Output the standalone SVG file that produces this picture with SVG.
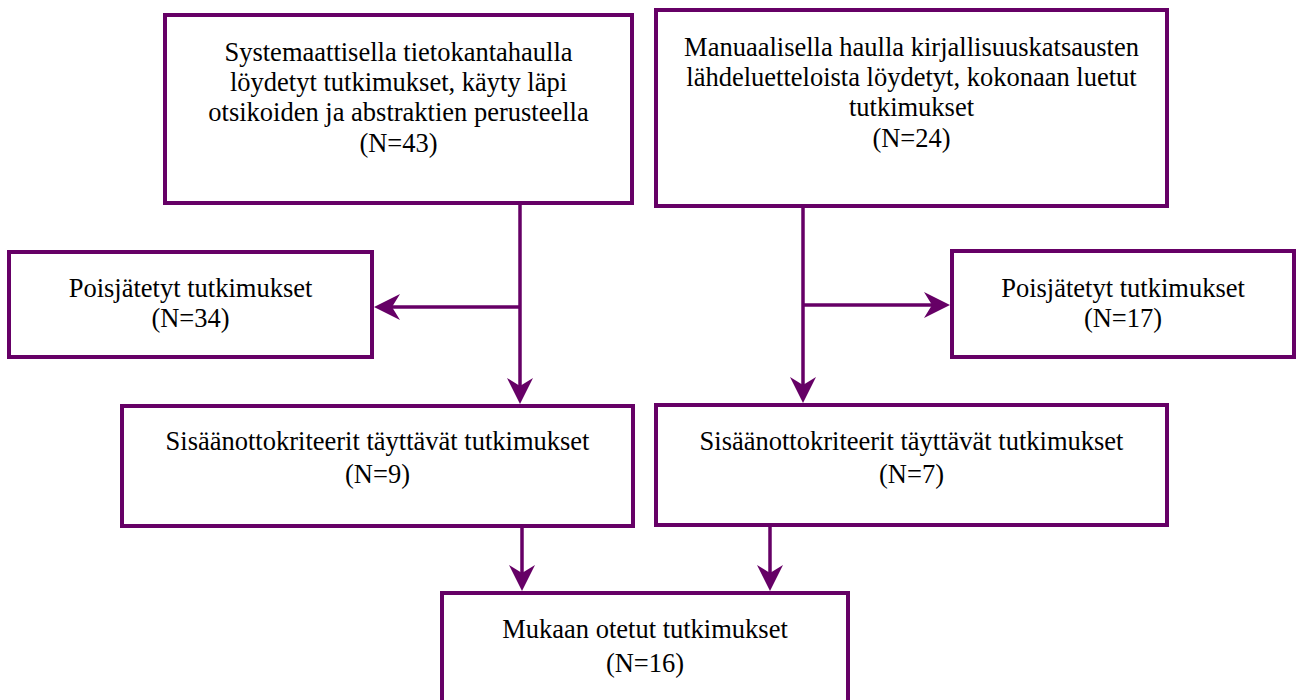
<svg xmlns="http://www.w3.org/2000/svg" width="1297" height="700" viewBox="0 0 1297 700">
  <style>
    .box { fill: #ffffff; stroke: #660066; stroke-width: 4; }
    .lbl { font-family: "Liberation Serif", "Times New Roman", serif; font-size: 26.5px; fill: #000000; text-anchor: middle; }
    .conn { fill: none; stroke: #660066; stroke-width: 3.5; }
  </style>
  <defs>
    <marker id="arr" markerUnits="userSpaceOnUse" viewBox="-17 -14 28 28" markerWidth="28" markerHeight="28" refX="0" refY="0" orient="auto">
      <path d="M10,0 L-16,-13 L-8,0 L-16,13 Z" fill="#660066"/>
    </marker>
  </defs>
  <rect width="1297" height="700" fill="#ffffff"/>

  <g id="connectors">
    <line class="conn" x1="520" y1="205" x2="520" y2="394" marker-end="url(#arr)"/>
    <line class="conn" x1="520" y1="307" x2="384" y2="307" marker-end="url(#arr)"/>
    <line class="conn" x1="803" y1="208" x2="803" y2="393" marker-end="url(#arr)"/>
    <line class="conn" x1="803" y1="305" x2="940" y2="305" marker-end="url(#arr)"/>
    <line class="conn" x1="522" y1="527" x2="522" y2="581" marker-end="url(#arr)"/>
    <line class="conn" x1="770" y1="527" x2="770" y2="581" marker-end="url(#arr)"/>
  </g>

  <g id="node-systematic">
    <rect class="box" x="165" y="15" width="467" height="188"/>
    <text class="lbl" x="398.5" y="61">Systemaattisella tietokantahaulla</text>
    <text class="lbl" x="398.5" y="91">löydetyt tutkimukset, käyty läpi</text>
    <text class="lbl" x="398.5" y="121">otsikoiden ja abstraktien perusteella</text>
    <text class="lbl" x="398.5" y="152">(N=43)</text>
  </g>

  <g id="node-manual">
    <rect class="box" x="656" y="10" width="511" height="196"/>
    <text class="lbl" x="911.5" y="56">Manuaalisella haulla kirjallisuuskatsausten</text>
    <text class="lbl" x="911.5" y="86">lähdeluetteloista löydetyt, kokonaan luetut</text>
    <text class="lbl" x="911.5" y="116">tutkimukset</text>
    <text class="lbl" x="911.5" y="147">(N=24)</text>
  </g>

  <g id="node-excluded-left">
    <rect class="box" x="9" y="252" width="363" height="105"/>
    <text class="lbl" x="190.5" y="297">Poisjätetyt tutkimukset</text>
    <text class="lbl" x="190.5" y="327">(N=34)</text>
  </g>

  <g id="node-excluded-right">
    <rect class="box" x="952" y="251" width="342" height="106"/>
    <text class="lbl" x="1123" y="297">Poisjätetyt tutkimukset</text>
    <text class="lbl" x="1123" y="327">(N=17)</text>
  </g>

  <g id="node-included-left">
    <rect class="box" x="122" y="406" width="511" height="120"/>
    <text class="lbl" x="377.5" y="450">Sisäänottokriteerit täyttävät tutkimukset</text>
    <text class="lbl" x="377.5" y="483">(N=9)</text>
  </g>

  <g id="node-included-right">
    <rect class="box" x="656" y="405" width="511" height="120"/>
    <text class="lbl" x="911.5" y="450">Sisäänottokriteerit täyttävät tutkimukset</text>
    <text class="lbl" x="911.5" y="483">(N=7)</text>
  </g>

  <g id="node-final">
    <rect class="box" x="442" y="593" width="406" height="130"/>
    <text class="lbl" x="645" y="638">Mukaan otetut tutkimukset</text>
    <text class="lbl" x="645" y="672">(N=16)</text>
  </g>
</svg>
